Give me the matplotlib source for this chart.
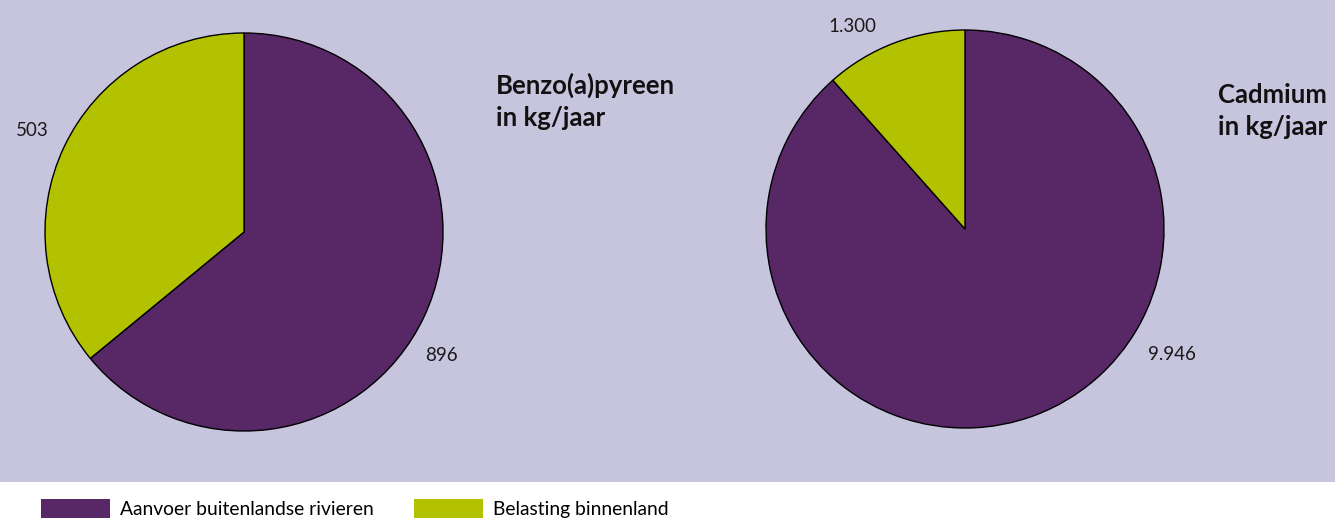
import matplotlib
matplotlib.use("Agg")
import matplotlib.pyplot as plt
from matplotlib.patches import Rectangle, Patch

plt.rcParams['font.family'] = ['Lato', 'DejaVu Sans']

categories = ["Aanvoer buitenlandse rivieren", "Belasting binnenland"]
benzo_values = [896, 503]
cadmium_values = [9946, 1300]
benzo_labels = ["896", "503"]
cadmium_labels = ["9.946", "1.300"]
titles = ["Benzo(a)pyreen\nin kg/jaar", "Cadmium\nin kg/jaar"]

purple = "#572766"
green = "#b3c200"
bg = "#c7c5de"

W, H = 1335, 522
fig = plt.figure(figsize=(W / 100, H / 100), dpi=100)
fig.patch.set_facecolor("white")
fig.patches.append(Rectangle((0, 1 - 482 / H), 1, 482 / H, transform=fig.transFigure,
                             facecolor=bg, edgecolor="none", zorder=-10))


def pie_axes(cx, cy, r):
    return fig.add_axes([(cx - r) / W, 1 - (cy + r) / H, 2 * r / W, 2 * r / H])


def draw_pie(ax, values, labels, label_pos):
    wedges, _ = ax.pie(values, colors=[purple, green], startangle=90, counterclock=False,
                       radius=1, wedgeprops=dict(edgecolor="black", linewidth=1.0))
    ax.set_xlim(-1.0, 1.0)
    ax.set_ylim(-1.0, 1.0)
    ax.set_aspect("equal")
    ax.axis("off")
    for w in wedges:
        w.set_clip_on(False)
    for lab, (x, y) in zip(labels, label_pos):
        ax.text(x, y, lab, ha="center", va="center", fontsize=13.5, color="#1a1a1a",
                clip_on=False)
    return wedges


ax1 = pie_axes(244, 232, 199)
draw_pie(ax1, benzo_values, benzo_labels, [(0.99, -0.62), (-1.065, 0.51)])
ax2 = pie_axes(965, 229, 199)
draw_pie(ax2, cadmium_values, cadmium_labels, [(1.04, -0.63), (-0.565, 1.02)])

fig.text(496 / W, 1 - 73 / H, titles[0], ha="left", va="top", fontsize=18.5,
         fontweight="bold", linespacing=1.38, color="#111111")
fig.text(1218 / W, 1 - 83 / H, titles[1], ha="left", va="top", fontsize=18.5,
         fontweight="bold", linespacing=1.38, color="#111111")

handles = [Patch(facecolor=purple, edgecolor="none"), Patch(facecolor=green, edgecolor="none")]
fig.legend(handles, categories, loc="upper left", bbox_to_anchor=(41 / W, 1 - 499 / H),
           ncol=2, frameon=False, fontsize=13.9, borderpad=0, borderaxespad=0,
           handlelength=3.57, handleheight=1.15, handletextpad=0.52, columnspacing=2.07)

fig.savefig("out.png", dpi=100)
